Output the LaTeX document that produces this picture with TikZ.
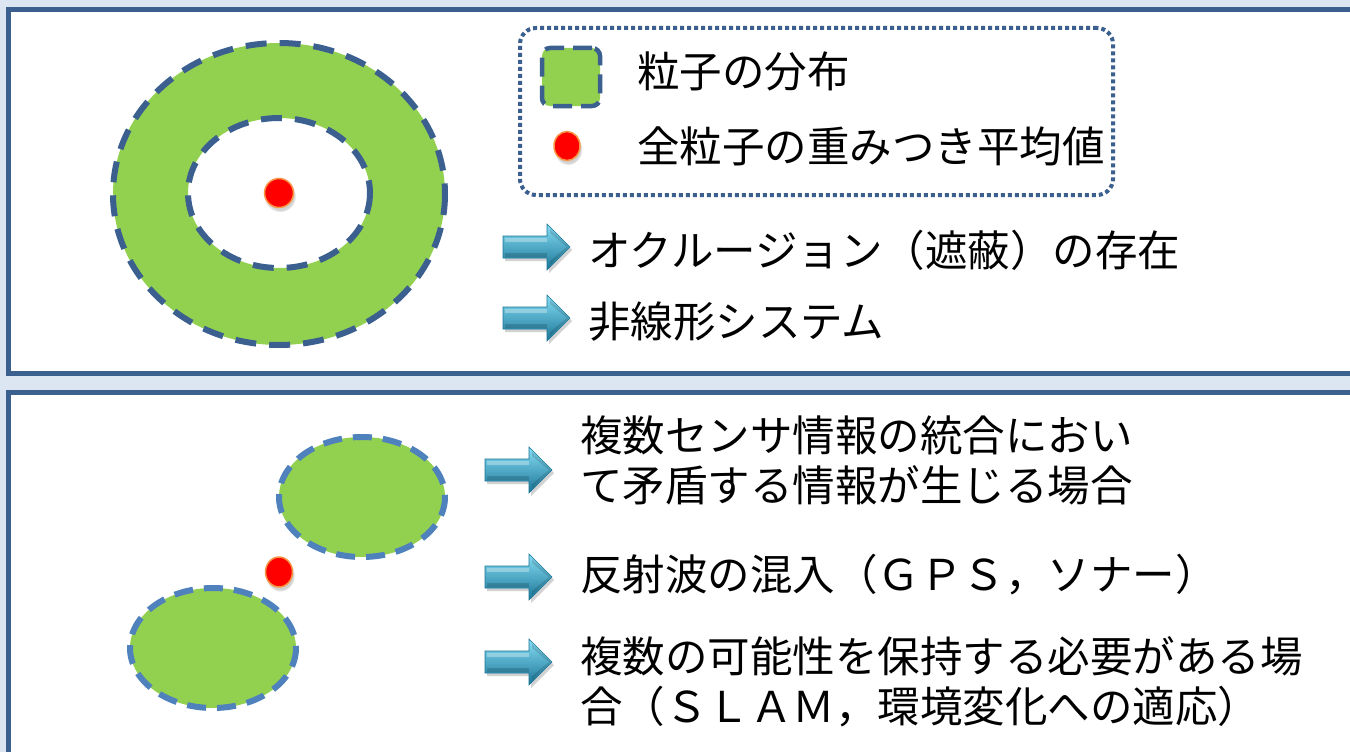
\documentclass[tikz,border=0pt]{standalone}
\usepackage{fontspec}
\setmainfont{Noto Sans CJK JP}
\usetikzlibrary{shadows,shapes.geometric}
\definecolor{bg}{HTML}{DCE6F2}
\definecolor{frame}{HTML}{3B5F8E}
\definecolor{grn}{HTML}{92D050}
\definecolor{dashA}{HTML}{3B5F8E}
\definecolor{dashB}{HTML}{4F81BD}
\definecolor{dotrim}{HTML}{F79646}
\definecolor{arrTop}{HTML}{86DDF4}
\definecolor{arrMid}{HTML}{38B6DC}
\definecolor{arrBot}{HTML}{1A7596}
\tikzset{
  fatarrow/.pic={
    \path[drop shadow={shadow xshift=2pt,shadow yshift=-3pt,opacity=0.35},
          top color=arrTop, middle color=arrMid, bottom color=arrBot,
          draw=arrBot, line width=0.6pt]
      (0,-11) -- (44,-11) -- (44,-23) -- (67,0) -- (44,23) -- (44,11) -- (0,11) -- cycle;
    \fill[white, opacity=0.3] (2,-9) -- (44,-9) -- (44,-5) -- (2,-5) -- cycle;
    \fill[black, opacity=0.15] (2,6) -- (44,6) -- (44,9.5) -- (2,9.5) -- cycle;
    \fill[black, opacity=0.12] (47,14) -- (64,0) -- (47,-14) -- (47,-18) -- (66,0) -- (47,18) -- cycle;
  }
}
\begin{document}
\begin{tikzpicture}[x=1pt,y=-1pt,
  panel/.style={draw=frame, line width=5pt, fill=white},
  blobline/.style={draw=#1, line width=6pt, dash pattern=on 21pt off 13pt},
  reddot/.style={circle, fill=red, draw=dotrim, line width=1.5pt, inner sep=0pt,
                 minimum size=29pt,
                 circular drop shadow={shadow xshift=1pt, shadow yshift=-3pt, opacity=0.35}},
  txt/.style={anchor=west, inner sep=0pt, font=\fontsize{42.5}{50}\selectfont, align=left}
]
\useasboundingbox (0,0) rectangle (1350,752);
\fill[bg] (0,0) rectangle (1350,752);

% panels
\path[panel] (8,10) rectangle (1365,373);
\path[panel] (8,392) rectangle (1365,770);

% ---- top panel ----
\fill[grn, even odd rule] (279,194) ellipse [x radius=166, y radius=151]
                          (279,193) ellipse [x radius=91, y radius=75];
\draw[blobline=dashA] (279,194) ellipse [x radius=166, y radius=151];
\draw[blobline=dashA] (279,193) ellipse [x radius=91, y radius=75];
\node[reddot] (mean1) at (279,193) {};

% legend
\node[draw=frame, line width=4pt, dash pattern=on 4pt off 3pt, rounded corners=16pt,
      minimum width=593pt, minimum height=167pt, inner sep=0pt] (legend) at (816.5,111.5) {};
\node[draw=dashA, fill=grn, line width=4.5pt, dash pattern=on 19pt off 9pt,
      rounded corners=8pt, minimum size=58pt, inner sep=0pt] (legsq) at (571,77) {};
\node[txt] (legt1) at (637,71) {粒子の分布};
\node[reddot, minimum width=26pt, minimum height=29pt, ellipse] (legdot) at (567,146) {};
\node[txt] (legt2) at (637,146) {全粒子の重みつき平均値};

\pic (ta1) at (503,247) {fatarrow};
\node[txt] (tt1) at (588,250) {オクルージョン（遮蔽）の存在};
\pic (ta2) at (503,318) {fatarrow};
\node[txt] (tt2) at (588,322) {非線形システム};

% ---- bottom panel ----
\fill[grn] (362,497) ellipse [x radius=83, y radius=60];
\draw[blobline=dashB, dash pattern=on 19pt off 11pt] (362,497) ellipse [x radius=83, y radius=60];
\fill[grn] (213,648) ellipse [x radius=83, y radius=60];
\draw[blobline=dashB, dash pattern=on 19pt off 11pt] (213,648) ellipse [x radius=83, y radius=60];
\node[reddot, ellipse, minimum width=27pt, minimum height=30pt] (mean2) at (279,572) {};

\pic (ba1) at (485,470) {fatarrow};
\node[txt] (bt1) at (580,460) {複数センサ情報の統合におい\\て矛盾する情報が生じる場合};
\pic (ba2) at (485,577) {fatarrow};
\node[txt] (bt2) at (580,575) {反射波の混入（ＧＰＳ，ソナー）};
\pic (ba3) at (485,662) {fatarrow};
\node[txt] (bt3) at (580,682) {複数の可能性を保持する必要がある場\\合（ＳＬＡＭ，環境変化への適応）};
\end{tikzpicture}
\end{document}
